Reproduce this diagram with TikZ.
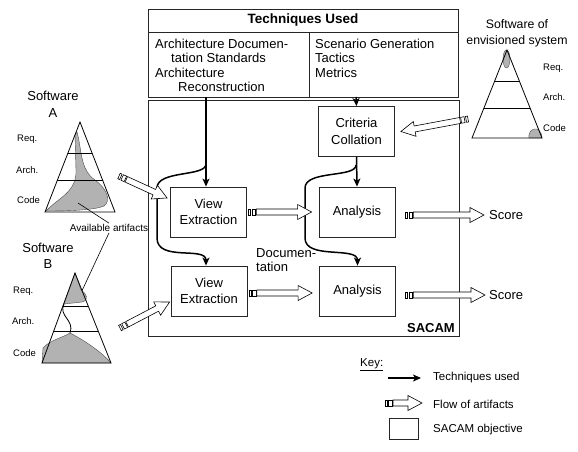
\documentclass[tikz,border=0pt]{standalone}
\usepackage{fontspec}
\setmainfont{Liberation Sans}
\usetikzlibrary{arrows.meta}
\usetikzlibrary{positioning}
\usetikzlibrary{calc,decorations.markings}

\tikzset{
  block/.style={draw=black!85,line width=0.8pt,minimum width=76pt,minimum height=50pt,align=center,font=\fontsize{13}{16.5}\selectfont},
  techarrow/.style={line width=1.5pt,-{Stealth[length=8pt,width=7pt,inset=2pt]}},
  flowarrow/.style={postaction={decorate},decoration={markings,mark=at position 0 with {
    \draw[line width=0.6pt,fill=white] (0pt,-3pt) rectangle (2pt,3pt);
    \draw[line width=0.6pt,fill=white] (3.5pt,-3pt) rectangle (7pt,3pt);
    \draw[line width=0.6pt,fill=white] (8pt,-3pt) -- (\pgfdecoratedpathlength-14pt,-3pt)
      -- (\pgfdecoratedpathlength-14pt,-7.5pt) -- (\pgfdecoratedpathlength,0pt)
      -- (\pgfdecoratedpathlength-14pt,7.5pt) -- (\pgfdecoratedpathlength-14pt,3pt) -- (8pt,3pt) -- cycle;}}},
  artifact/.style={fill=gray!60,draw=black!70,line width=0.4pt},
  level/.style={anchor=west,inner sep=0pt,font=\fontsize{9.5}{11}\selectfont},
  txt/.style={inner sep=0pt,font=\fontsize{13}{14.4}\selectfont},
  keytxt/.style={anchor=west,inner sep=0pt,font=\fontsize{11.5}{13}\selectfont}
}

\begin{document}
\begin{tikzpicture}[x=1pt,y=-1pt]
\useasboundingbox (0,0) rectangle (578,451);

% techniques used
\draw[line width=1pt,black!85] (148,9) rectangle (458,97);
\draw[line width=1pt,black!85] (148,32) -- (458,32);
\draw[line width=1pt,black!85] (309,32) -- (309,97);
\node[txt,font=\fontsize{13.5}{14.4}\selectfont\bfseries] (techhead) at (303,20) {Techniques Used};
\node[txt,anchor=north west,align=left] (techtxtL) at (155,38.6)
  {Architecture Documen-\\\hspace*{16pt}tation Standards\\Architecture\\\hspace*{23pt}Reconstruction};
\node[txt,anchor=north west,align=left] (techtxtR) at (315,38.6) {Scenario Generation\\Tactics\\Metrics};
\coordinate (techL) at (206,97);
\coordinate (techR) at (356,97);

% sacam
\draw[line width=1pt,black!85] (148,100) rectangle (459,336);
\node[txt,anchor=base east,font=\fontsize{13}{14.4}\selectfont\bfseries] (sacamlbl) at (455,332) {SACAM};

\node[block] (crit) at (356.5,131.5) {Criteria\\Collation};
\node[block] (ve1) at (208.5,212) {View\\Extraction};
\node[block] (an1) at (357,212) {Analysis};
\node[block] (ve2) at (209,291) {View\\Extraction};
\node[block] (an2) at (357.5,291) {Analysis};
\node[txt,anchor=north west,align=left] (docu) at (256,248) {Documen-\\tation};
\node[txt,anchor=west] (score1) at (489,215) {Score};
\node[txt,anchor=west] (score2) at (489,295) {Score};

% techniques arrows
\coordinate (splitL) at (206,164);
\coordinate (splitR) at (356,165);
\draw[techarrow] (techL) -- (techL |- ve1.north);
\draw[techarrow] (splitL) .. controls (206,177) and (157,170) .. (157,188) -- (157,238)
  .. controls (157,262) and (206,246) .. (ve2.north -| techL);
\draw[techarrow] (techR) -- (crit.north);
\draw[techarrow] (crit.south) -- (an1.north);
\draw[techarrow] (splitR) .. controls (356,178) and (305,170) .. (305,188) -- (305,238)
  .. controls (305,260) and (357.5,246) .. (an2.north);

% flow of artifacts
\coordinate (swAout) at (119,176);
\coordinate (swBout) at (120,328);
\coordinate (critin) at (468,119);
\path[flowarrow] (swAout) -- ([xshift=-3pt,yshift=14pt]ve1.west);
\path[flowarrow] (swBout) -- ([xshift=-1pt,yshift=-11pt]ve2.west);
\path[flowarrow] (critin) -- ([xshift=6pt]crit.east);
\path[flowarrow] ([xshift=1.5pt]ve1.east) -- ([xshift=-7pt]an1.west);
\path[flowarrow] ([xshift=1.5pt,yshift=-2pt]ve2.east) -- ([xshift=-7pt,yshift=-2pt]an2.west);
\path[flowarrow] ([xshift=10pt,yshift=-3pt]an1.east) -- ([xshift=-5pt]score1.west);
\path[flowarrow] ([xshift=9.5pt,yshift=-4pt]an2.east) -- ([xshift=-4pt]score2.west);

% software A
\coordinate (aTop) at (80,122);
\coordinate (aL) at (45,212);
\coordinate (aR) at (115,212);
\draw[artifact] (77,132) .. controls (82,150) and (80,170) .. (95,180)
  .. controls (106,188) and (112,200) .. (104,206) .. controls (95,210) and (70,211) .. (46,211)
  .. controls (58,198) and (77,192) .. (76,170) -- (75,135) -- cycle;
\draw[line width=0.8pt] (aTop) -- (aR) -- (aL) -- cycle;
\foreach \f in {0.344,0.644}
  \draw[line width=0.6pt] ($(aTop)!\f!(aL)$) -- ($(aTop)!\f!(aR)$);
\node[txt,align=center,font=\fontsize{13}{17}\selectfont] (swA) at (53,104) {Software\\A};
\node[level] (aReq) at (17,139) {Req.};
\node[level] (aArch) at (16,170) {Arch.};
\node[level] (aCode) at (17,200) {Code};

% available artifacts
\node[inner sep=1pt,font=\fontsize{10}{12}\selectfont] (avail) at (109,228) {Available artifacts};
\draw[line width=0.6pt] (78,203) -- (avail.north);
\draw[line width=0.6pt] (avail.south) -- (80,295);

% software B
\coordinate (bTop) at (75,273);
\coordinate (bL) at (42,363);
\coordinate (bR) at (111,363);
\draw[artifact] (bTop) -- (81,290) .. controls (86,293) and (90,300) .. (82,302) -- (64,304) -- cycle;
\draw[artifact] (bL) -- (43,348) .. controls (50,340) and (62,338) .. (70,333)
  .. controls (80,338) and (100,350) .. (bR) -- cycle;
\draw[line width=0.8pt] (64,304) .. controls (58,316) and (75,320) .. (70,333);
\draw[line width=0.8pt] (bTop) -- (bR) -- (bL) -- cycle;
\foreach \f in {0.367,0.644}
  \draw[line width=0.6pt] ($(bTop)!\f!(bL)$) -- ($(bTop)!\f!(bR)$);
\node[txt,align=center,font=\fontsize{13}{16}\selectfont] (swB) at (48,256) {Software\\B};
\node[level] (bReq) at (13,291) {Req.};
\node[level] (bArch) at (12,321) {Arch.};
\node[level] (bCode) at (13,353) {Code};

% software of envisioned system
\coordinate (eTop) at (507,50);
\coordinate (eL) at (472,138);
\coordinate (eR) at (542,138);
\draw[artifact] (506.5,59) ellipse (3.5 and 9);
\draw[artifact] (529,138) .. controls (528,131) and (533,128) .. (537,129)
  .. controls (541,131) and (542,135) .. (542,138) -- cycle;
\draw[line width=0.8pt] (eTop) -- (eR) -- (eL) -- cycle;
\foreach \f in {0.352,0.659}
  \draw[line width=0.6pt] ($(eTop)!\f!(eL)$) -- ($(eTop)!\f!(eR)$);
\node[txt,align=center,font=\fontsize{12.3}{16}\selectfont] (swE) at (517,33) {Software of\\envisioned system};
\node[level] (eReq) at (543,68) {Req.};
\node[level] (eArch) at (543,97) {Arch.};
\node[level] (eCode) at (543,128) {Code};

% key
\node[keytxt] (keylbl) at (360,365) {\underline{Key:}};
\coordinate (keyT) at (388,378);
\coordinate (keyTend) at (421,378);
\draw[techarrow,line width=1.3pt] (keyT) -- (keyTend);
\node[keytxt] (keytech) at (433,378) {Techniques used};
\coordinate (keyF) at (385,403);
\coordinate (keyFend) at (422,403);
\path[flowarrow] (keyF) -- (keyFend);
\node[keytxt] (keyflow) at (433,404) {Flow of artifacts};
\node[draw=black!85,line width=0.8pt,minimum width=29pt,minimum height=21pt] (keybox) at (404,429) {};
\node[keytxt] (keyobj) at (433,430) {SACAM objective};
\end{tikzpicture}
\end{document}
